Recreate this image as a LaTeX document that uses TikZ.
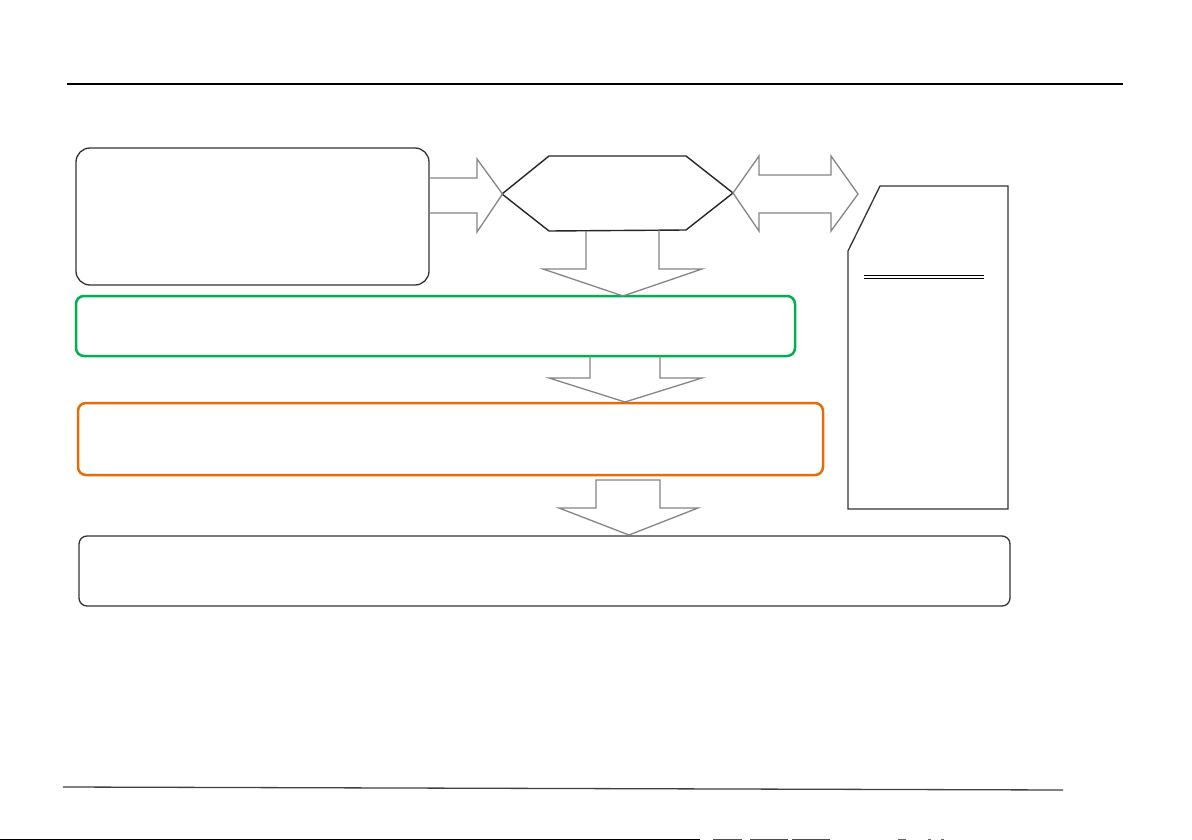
\documentclass[tikz,border=0pt]{standalone}
\usetikzlibrary{calc}
\definecolor{boxgray}{HTML}{333333}
\definecolor{arrgray}{HTML}{858585}
\definecolor{mygreen}{HTML}{00B050}
\definecolor{myorange}{HTML}{E46C0A}
\tikzset{
  rulestyle/.style={line width=1.2pt, black},
  darkbox/.style={draw=boxgray, line width=1.3pt, rounded corners=14pt},
  thinbox/.style={draw=boxgray, line width=1.3pt, rounded corners=8pt},
  greenbox/.style={draw=mygreen, line width=2.5pt, rounded corners=8pt},
  orangebox/.style={draw=myorange, line width=2.5pt, rounded corners=8pt},
  blockarrow/.style={draw=arrgray, line width=1.3pt, line join=miter},
  hexstyle/.style={draw=black!85, line width=1.4pt, line join=miter},
}
\begin{document}
\begin{tikzpicture}[x=1pt,y=-1pt]
\useasboundingbox (0,0) rectangle (1192,840);
\fill[white] (0,0) rectangle (1192,840);

% header and footer rules
\coordinate (hl) at (67,84); \coordinate (hr) at (1123,84);
\draw[rulestyle] (hl) -- (hr);
\coordinate (fl) at (63,787); \coordinate (fr) at (1063,790);
\draw[line width=1.3pt, black!75] (fl) -- (fr);

% boxes
\draw[darkbox] (76,148) rectangle (429,285);
\node[inner sep=0pt] (box1) at (252.5,216.5) {};
\draw[greenbox] (76,296) rectangle (795,356);
\node[inner sep=0pt] (green) at (435.5,326) {};
\draw[orangebox] (78,403) rectangle (823,475);
\node[inner sep=0pt] (orange) at (450.5,439) {};
\draw[thinbox] (79,536) rectangle (1010,606);
\node[inner sep=0pt] (bottom) at (544.5,571) {};

% hexagon
\draw[hexstyle] (502,194) -- (549,156) -- (686,156) -- (733,193) -- (686,230) -- (549,231) -- cycle;
\node[inner sep=0pt] (hex) at (617,193) {};

% right tall box with cut corner
\draw[draw=boxgray, line width=1.3pt, line join=miter]
  (880,186) -- (1008,186) -- (1008,509) -- (848,509) -- (848,251) -- cycle;
\node[inner sep=0pt] (side) at (928,348) {};
\draw[line width=1.2pt, black] (864,275.6) -- (984,275.6);
\draw[line width=1.2pt, black] (864,278.4) -- (984,278.4);

% right arrow box1 -> hexagon
\draw[blockarrow] (429,178) -- (477,178) -- (477,159) -- (502.5,194) -- (477,232) -- (477,213) -- (429,213);

% double arrow hexagon <-> side box
\draw[blockarrow] (733,193) -- (759,156) -- (759,175) -- (831,175) -- (831,156) -- (858,194)
  -- (831,231) -- (831,213) -- (759,213) -- (759,231) -- cycle;

% down arrow hexagon -> green
\draw[blockarrow] (586,231) -- (586,269) -- (543,269) -- (623,296) -- (702,269) -- (659,269) -- (659,230);

% down arrow green -> orange
\draw[blockarrow] (590,356) -- (590,378) -- (549,378) -- (625,402) -- (702,378) -- (660,378) -- (660,356);

% down arrow orange -> bottom
\draw[blockarrow] (596,480) -- (660,480) -- (660,508) -- (698,508) -- (629,535) -- (559,508) -- (596,508) -- cycle;

% bottom edge fragments
\draw[line width=2pt, black] (0,839.5) -- (700,839.5);
\draw[line width=1pt, black!70] (713,839.5) -- (742,839.5);
\draw[line width=1pt, black!70] (750,839.5) -- (788,839.5);
\draw[line width=1pt, black!70] (792,839.5) -- (830,839.5);
\draw[line width=1pt, black!60] (898,839.5) -- (906,839.5);
\draw[line width=1pt, black!60] (928,839.5) -- (931,839.5);
\draw[line width=1pt, black!60] (941,839.5) -- (944,839.5);
\end{tikzpicture}
\end{document}
